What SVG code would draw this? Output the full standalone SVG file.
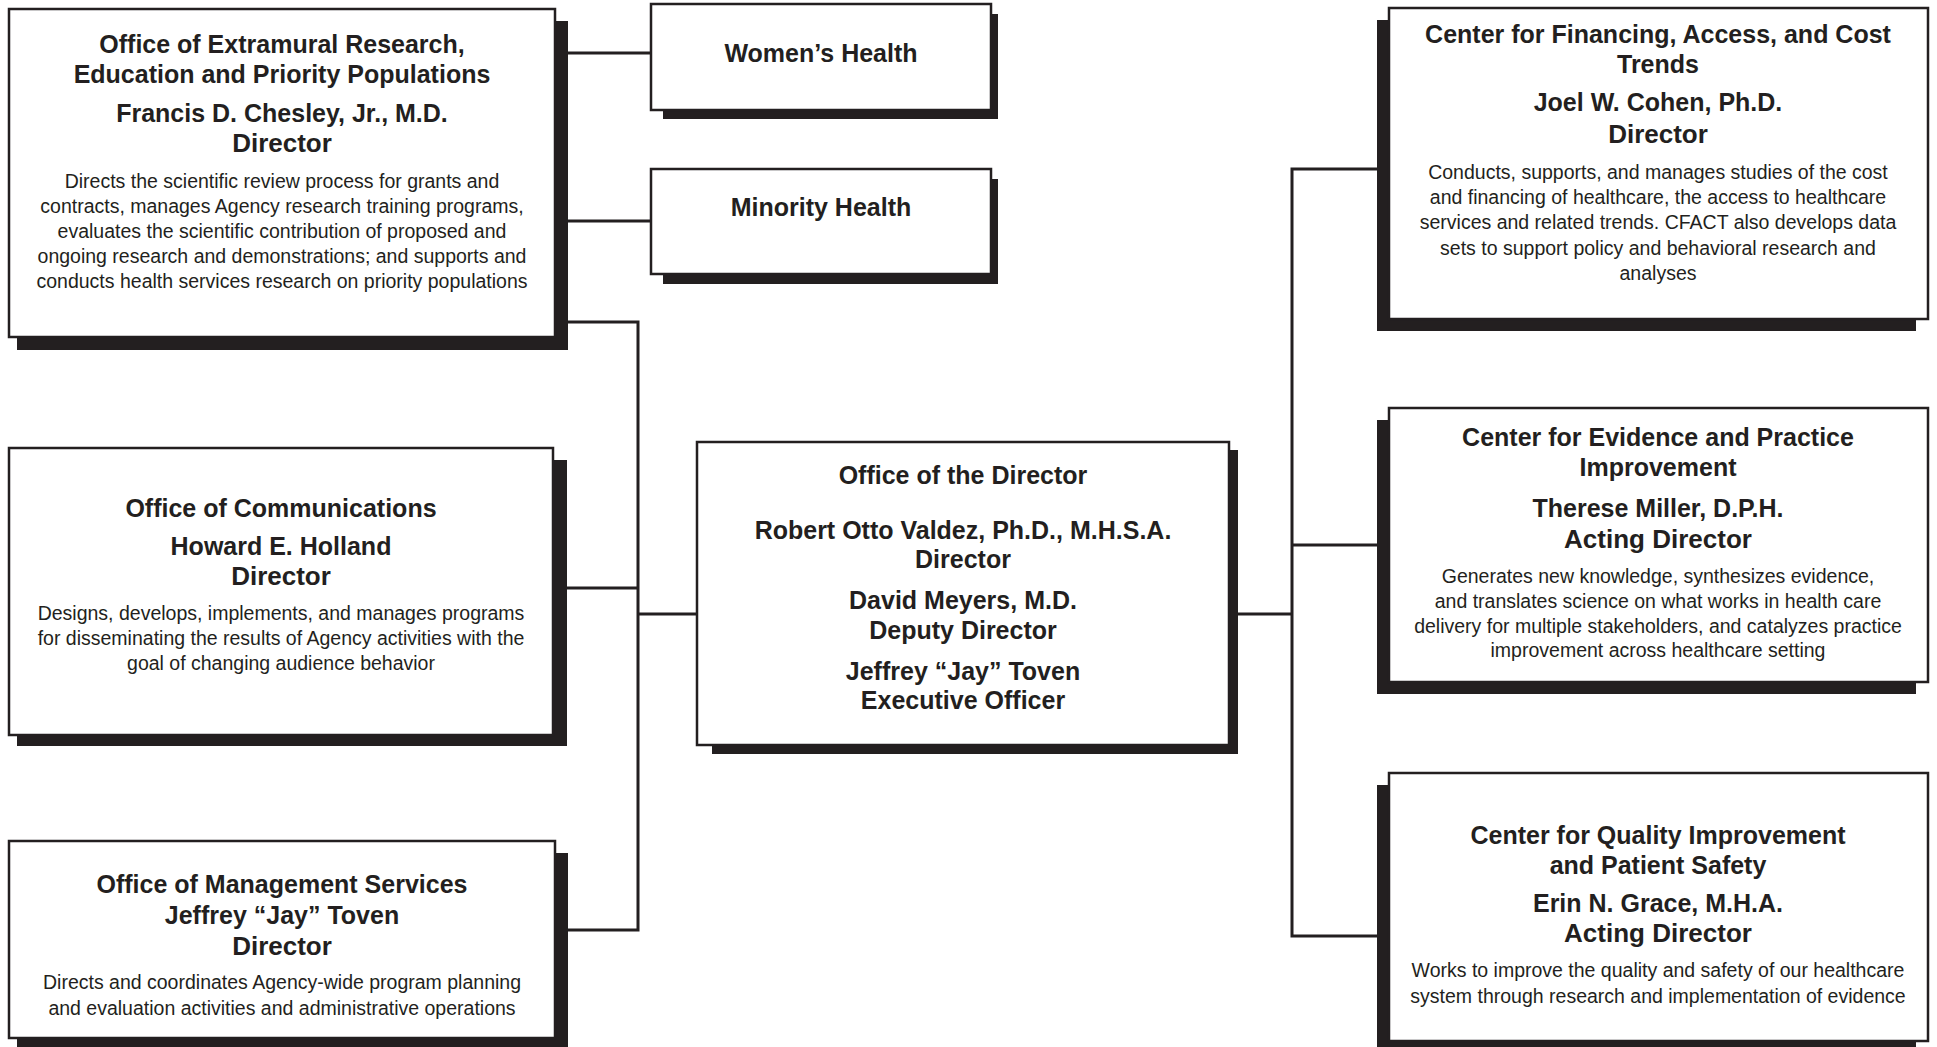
<svg xmlns="http://www.w3.org/2000/svg" width="1937" height="1047" viewBox="0 0 1937 1047">
<style>
.bg{fill:#ffffff}
.sh{fill:#231f20}
.bx{fill:#ffffff;stroke:#231f20;stroke-width:2.5}
.cn{fill:none;stroke:#231f20;stroke-width:3}
text{font-family:"Liberation Sans",Arial,sans-serif;fill:#231f20;text-anchor:middle}
.t{font-size:25px;font-weight:bold}
.d{font-size:26px;font-weight:bold}
.b{font-size:19.5px}
</style>
<rect class="bg" x="0" y="0" width="1937" height="1047"/>
<g id="connectors">
<line class="cn" x1="567" y1="53" x2="651" y2="53"/>
<line class="cn" x1="567" y1="221" x2="651" y2="221"/>
<polyline class="cn" points="567,322 638,322 638,930 567,930"/>
<line class="cn" x1="567" y1="588" x2="638" y2="588"/>
<line class="cn" x1="638" y1="614" x2="697" y2="614"/>
<line class="cn" x1="1238" y1="614" x2="1292" y2="614"/>
<polyline class="cn" points="1377,169 1292,169 1292,936 1377,936"/>
<line class="cn" x1="1292" y1="545" x2="1377" y2="545"/>
</g>
<g id="extramural">
<rect class="sh" x="17" y="21" width="551" height="329"/>
<rect class="bx" x="9" y="9" width="546" height="328"/>
<text class="t" x="282" y="53">Office of Extramural Research,</text>
<text class="t" x="282" y="83">Education and Priority Populations</text>
<text class="t" x="282" y="122">Francis D. Chesley, Jr., M.D.</text>
<text class="d" x="282" y="152">Director</text>
<text class="b" x="282" y="188">Directs the scientific review process for grants and</text>
<text class="b" x="282" y="213">contracts, manages Agency research training programs,</text>
<text class="b" x="282" y="238">evaluates the scientific contribution of proposed and</text>
<text class="b" x="282" y="263">ongoing research and demonstrations; and supports and</text>
<text class="b" x="282" y="288">conducts health services research on priority populations</text>
</g>
<g id="womens-health">
<rect class="sh" x="663" y="14" width="335" height="105"/>
<rect class="bx" x="651" y="4" width="340" height="106"/>
<text class="t" x="821" y="62">Women’s Health</text>
</g>
<g id="minority-health">
<rect class="sh" x="663" y="179" width="335" height="105"/>
<rect class="bx" x="651" y="169" width="340" height="105"/>
<text class="t" x="821" y="216">Minority Health</text>
</g>
<g id="communications">
<rect class="sh" x="17" y="460" width="550" height="286"/>
<rect class="bx" x="9" y="448" width="544" height="287"/>
<text class="t" x="281" y="517">Office of Communications</text>
<text class="t" x="281" y="555">Howard E. Holland</text>
<text class="d" x="281" y="585">Director</text>
<text class="b" x="281" y="620">Designs, develops, implements, and manages programs</text>
<text class="b" x="281" y="645">for disseminating the results of Agency activities with the</text>
<text class="b" x="281" y="670">goal of changing audience behavior</text>
</g>
<g id="management">
<rect class="sh" x="17" y="853" width="551" height="210"/>
<rect class="bx" x="9" y="841" width="546" height="197"/>
<text class="t" x="282" y="893">Office of Management Services</text>
<text class="t" x="282" y="924">Jeffrey “Jay” Toven</text>
<text class="d" x="282" y="955">Director</text>
<text class="b" x="282" y="989">Directs and coordinates Agency-wide program planning</text>
<text class="b" x="282" y="1015">and evaluation activities and administrative operations</text>
</g>
<g id="director">
<rect class="sh" x="712" y="450" width="526" height="304"/>
<rect class="bx" x="697" y="442" width="532" height="303"/>
<text class="t" x="963" y="484">Office of the Director</text>
<text class="t" x="963" y="539">Robert Otto Valdez, Ph.D., M.H.S.A.</text>
<text class="t" x="963" y="568">Director</text>
<text class="t" x="963" y="609">David Meyers, M.D.</text>
<text class="t" x="963" y="639">Deputy Director</text>
<text class="t" x="963" y="680">Jeffrey “Jay” Toven</text>
<text class="t" x="963" y="709">Executive Officer</text>
</g>
<g id="cfact">
<rect class="sh" x="1377" y="20" width="539" height="311"/>
<rect class="bx" x="1389" y="8" width="539" height="311"/>
<text class="t" x="1658" y="43">Center for Financing, Access, and Cost</text>
<text class="t" x="1658" y="73">Trends</text>
<text class="t" x="1658" y="111">Joel W. Cohen, Ph.D.</text>
<text class="d" x="1658" y="143">Director</text>
<text class="b" x="1658" y="179">Conducts, supports, and manages studies of the cost</text>
<text class="b" x="1658" y="204">and financing of healthcare, the access to healthcare</text>
<text class="b" x="1658" y="229">services and related trends. CFACT also develops data</text>
<text class="b" x="1658" y="255">sets to support policy and behavioral research and</text>
<text class="b" x="1658" y="280">analyses</text>
</g>
<g id="cepi">
<rect class="sh" x="1377" y="420" width="539" height="274"/>
<rect class="bx" x="1389" y="408" width="539" height="274"/>
<text class="t" x="1658" y="446">Center for Evidence and Practice</text>
<text class="t" x="1658" y="476">Improvement</text>
<text class="t" x="1658" y="517">Therese Miller, D.P.H.</text>
<text class="d" x="1658" y="548">Acting Director</text>
<text class="b" x="1658" y="583">Generates new knowledge, synthesizes evidence,</text>
<text class="b" x="1658" y="608">and translates science on what works in health care</text>
<text class="b" x="1658" y="633">delivery for multiple stakeholders, and catalyzes practice</text>
<text class="b" x="1658" y="657">improvement across healthcare setting</text>
</g>
<g id="cquips">
<rect class="sh" x="1377" y="785" width="539" height="280"/>
<rect class="bx" x="1389" y="773" width="539" height="268"/>
<text class="t" x="1658" y="844">Center for Quality Improvement</text>
<text class="t" x="1658" y="874">and Patient Safety</text>
<text class="t" x="1658" y="912">Erin N. Grace, M.H.A.</text>
<text class="d" x="1658" y="942">Acting Director</text>
<text class="b" x="1658" y="977">Works to improve the quality and safety of our healthcare</text>
<text class="b" x="1658" y="1003">system through research and implementation of evidence</text>
</g>
</svg>
